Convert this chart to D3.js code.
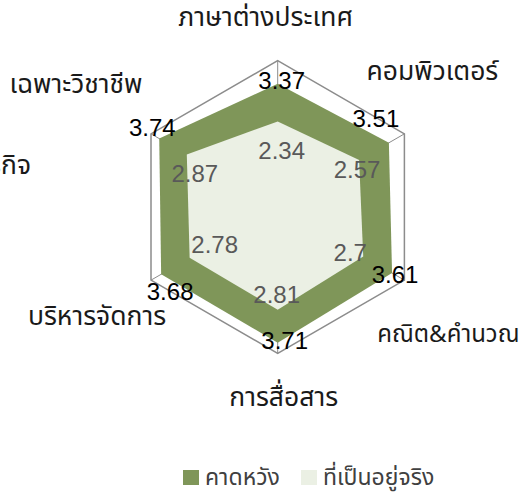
<!DOCTYPE html>
<html>
<head>
<meta charset="utf-8">
<script src="https://cdn.jsdelivr.net/npm/d3@7"></script>
<style>
  html, body { margin: 0; padding: 0; background: #fff; }
  svg { display: block; }
  .cat { font-family: "Noto Sans Thai", "Leelawadee UI", Tahoma, "DejaVu Sans", sans-serif; font-size: 26.5px; fill: #1a1a1a; }
  .val { font-family: "Liberation Sans", Arial, sans-serif; font-size: 24px; }
  .val.exp { fill: #000; }
  .val.act { fill: #595959; }
  .leg { font-family: "Noto Sans Thai", "Leelawadee UI", Tahoma, "DejaVu Sans", sans-serif; font-size: 23px; fill: #404040; }
</style>
</head>
<body>
<svg id="chart" width="523" height="496"></svg>
<script>
// radar: expected vs actual skill level, scale 0..4
var categories = ['ภาษาต่างประเทศ', 'คอมพิวเตอร์', 'คณิต&คำนวณ', 'การสื่อสาร', 'บริหารจัดการ', 'เฉพาะวิชาชีพ'];
var extraLabel = 'ธุรกิจ';
var expected = [3.37, 3.51, 3.61, 3.71, 3.68, 3.74];
var actual = [2.34, 2.57, 2.7, 2.81, 2.78, 2.87];
var seriesNames = ['คาดหวัง', 'ที่เป็นอยู่จริง'];
var gridLevels = [1, 2, 3, 4];

(function () {
    var svg = d3.select('#chart');
    var cx = 277.7, cy = 207, R = 146.3;
    var colors = ['#7f9659', '#ebf0e4'];

    var r = d3.scaleLinear().domain([0, 4]).range([0, R]);
    var angle = d3.scaleLinear().domain([0, categories.length]).range([0, 2 * Math.PI]);

    function pt(i, v) {
        var a = angle(i);
        return [cx + r(v) * Math.sin(a), cy - r(v) * Math.cos(a)];
    }

    var g = svg.append('g');

    // grid rings + spokes (inner ones end up under the fills)
    gridLevels.forEach(function (lv) {
        var ring = d3.range(categories.length).map(function (i) { return pt(i, lv); });
        g.append('path')
            .attr('d', d3.line()(ring) + 'Z')
            .attr('fill', 'none')
            .attr('stroke', '#8c8c8c')
            .attr('stroke-width', 1.5);
    });
    d3.range(categories.length).forEach(function (i) {
        var p = pt(i, 4);
        g.append('line').attr('x1', cx).attr('y1', cy).attr('x2', p[0]).attr('y2', p[1])
            .attr('stroke', '#8c8c8c').attr('stroke-width', 1);
    });

    // filled areas
    [expected, actual].forEach(function (s, k) {
        var poly = s.map(function (v, i) { return pt(i, v); });
        g.append('path')
            .attr('d', d3.line()(poly) + 'Z')
            .attr('fill', colors[k])
            .attr('stroke', 'none');
    });

    // data labels, nudged off the vertex like the original
    var expOff = [[4, 5], [-13, -16], [3, 10], [7, 6], [9, 26], [-7, -3]];
    var actOff = [[4, 38], [-2, 18], [-13, 5], [-1, -7], [25, -5], [8, 27]];
    expected.forEach(function (v, i) {
        var p = pt(i, v);
        g.append('text').attr('class', 'val exp')
            .attr('x', p[0] + expOff[i][0]).attr('y', p[1] + expOff[i][1])
            .attr('text-anchor', 'middle')
            .text(v);
    });
    actual.forEach(function (v, i) {
        var p = pt(i, v);
        g.append('text').attr('class', 'val act')
            .attr('x', p[0] + actOff[i][0]).attr('y', p[1] + actOff[i][1])
            .attr('text-anchor', 'middle')
            .text(v);
    });

    // category labels, offsets from the outer vertex
    var catOff = [[-12, -35], [28, -54], [44, 62], [6, 53], [-54, 45], [-75, -41]];
    categories.forEach(function (c, i) {
        var p = pt(i, 4);
        g.append('text').attr('class', 'cat')
            .attr('x', p[0] + catOff[i][0]).attr('y', p[1] + catOff[i][1])
            .attr('text-anchor', 'middle')
            .style('font-size', i === 2 ? '24px' : null)
            .text(c);
    });
    var pl = pt(5, 4);
    g.append('text').attr('class', 'cat')
        .attr('x', pl[0] - 120).attr('y', pl[1] + 40)
        .attr('text-anchor', 'end')
        .text(extraLabel);

    // legend
    var leg = svg.append('g').attr('transform', 'translate(183,470)');
    var lx = [0, 118];
    seriesNames.forEach(function (n, k) {
        leg.append('rect').attr('x', lx[k]).attr('y', 0).attr('width', 16).attr('height', 15)
            .attr('fill', colors[k]);
        leg.append('text').attr('class', 'leg')
            .attr('x', lx[k] + 22).attr('y', 15)
            .text(n);
    });
})();
</script>
</body>
</html>
